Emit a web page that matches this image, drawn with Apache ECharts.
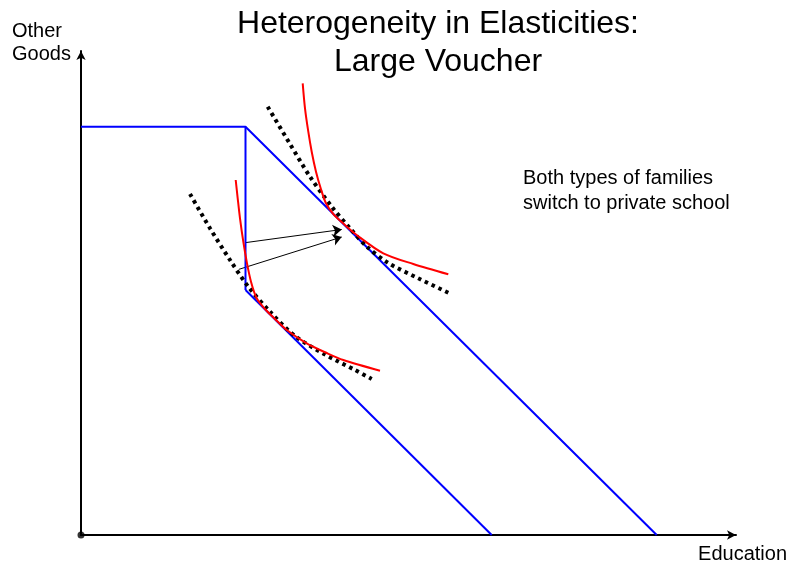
<!DOCTYPE html>
<html>
<head>
<meta charset="utf-8">
<script src="https://cdn.jsdelivr.net/npm/echarts@6/dist/echarts.min.js"></script>
<style>html,body{margin:0;padding:0;background:#fff}#c{width:793px;height:569px}</style>
</head>
<body>
<div id="c"></div>
<script>
// Budget constraints (Education on x, Other Goods on y)
const upperBudget = [[0, 40.83], [16.45, 40.83], [57.57, 0]];
const voucherStep = [[16.45, 40.83], [16.45, 24.5]];
const lowerBudget = [[16.45, 24.5], [41.07, 0]];
// Indifference curves, inelastic type (red)
const upperCurve = [[22.17, 45.17], [22.4, 42.67], [22.73, 40.33], [23.07, 38.33], [23.5, 36.33], [23.97, 34.67], [24.5, 33.17], [25.23, 32.1], [26.23, 31.15], [27.57, 30.0], [30.23, 28.17], [33.23, 27.1], [36.73, 26.07]];
const lowerCurve = [[15.47, 35.5], [15.67, 33.67], [15.9, 31.67], [16.23, 29.33], [16.57, 27.33], [17.0, 25.33], [17.57, 23.67], [18.4, 22.6], [19.4, 21.6], [20.57, 20.5], [22.57, 19.17], [24.57, 18.2], [26.23, 17.5], [29.9, 16.43]];
// Indifference curves, elastic type (dotted)
const upperDotted = [[18.67, 42.83], [20.9, 39.1], [22.9, 35.83], [25.07, 32.83], [26.9, 30.67], [28.57, 28.85], [30.73, 27.2], [33.73, 25.67], [36.73, 24.23]];
const lowerDotted = [[10.9, 34.1], [12.9, 30.67], [14.9, 27.5], [16.73, 24.83], [18.9, 22.33], [21.4, 19.9], [24.4, 18.05], [27.4, 16.5], [29.07, 15.6]];
// Arrows showing the switch
const moveArrows = [
  [[16.4, 29.23], [26.07, 30.55]],
  [[15.8, 26.57], [26.07, 29.8]]
];
const titleText = 'Heterogeneity in Elasticities:\nLarge Voucher';
const xName = 'Education';
const yName = 'Other\nGoods';
const noteText = 'Both types of families\nswitch to private school';

const chart = echarts.init(document.getElementById('c'));
const font = 'Liberation Sans, Arial, sans-serif';
const axisCommon = {
  type: 'value', min: 0,
  axisTick: {show: false}, axisLabel: {show: false}, splitLine: {show: false},
  axisLine: {show: true, onZero: false, symbol: ['none', 'arrow'], symbolSize: [7, 9],
    lineStyle: {color: '#000', width: 2}}
};
function seg(data, color, width, type, smooth) {
  return {type: 'line', data: data, showSymbol: false, symbol: 'none', smooth: smooth || false,
    lineStyle: {color: color, width: width, type: type || 'solid', cap: 'butt'}, silent: true, clip: false};
}
chart.setOption({
  animation: false,
  backgroundColor: '#fff',
  title: {
    text: titleText, left: 438, top: 5, padding: 0, textAlign: 'center',
    textStyle: {fontFamily: font, fontSize: 32, fontWeight: 'normal', color: '#000', lineHeight: 38}
  },
  grid: {left: 81, right: 57, top: 51, bottom: 34, containLabel: false},
  xAxis: Object.assign({}, axisCommon, {max: 65.5, name: xName, nameLocation: 'end', nameGap: 51,
    nameTextStyle: {fontFamily: font, fontSize: 20, color: '#000', align: 'right', verticalAlign: 'top', lineHeight: 20, padding: [9, 0, 0, 0]}}),
  yAxis: Object.assign({}, axisCommon, {max: 48.4}),
  graphic: [
    {type: 'text', left: 12, top: 20, style: {text: yName, font: '20px ' + font, lineHeight: 23, fill: '#000'}},
    {type: 'text', left: 523, top: 166, style: {text: noteText, font: '20px ' + font, lineHeight: 25, fill: '#000'}}
  ],
  series: [
    seg(upperBudget, '#0000ff', 2),
    seg(voucherStep, '#0000ff', 2),
    seg(lowerBudget, '#0000ff', 2),
    seg(upperDotted, '#000', 4, [3.5, 4], 0.3),
    seg(lowerDotted, '#000', 4, [3.5, 4], 0.3),
    seg(upperCurve, '#ff0000', 2, 'solid', 0.3),
    seg(lowerCurve, '#ff0000', 2, 'solid', 0.3),
    {type: 'lines', coordinateSystem: 'cartesian2d', silent: true,
      symbol: ['none', 'arrow'], symbolSize: 9,
      lineStyle: {color: '#000', width: 1, opacity: 1},
      data: moveArrows.map(c => ({coords: c}))},
    {type: 'scatter', data: [[0, 0]], symbol: 'circle', symbolSize: 7, itemStyle: {color: '#000'}, silent: true, clip: false, z: 5}
  ]
});
</script>
</body>
</html>
